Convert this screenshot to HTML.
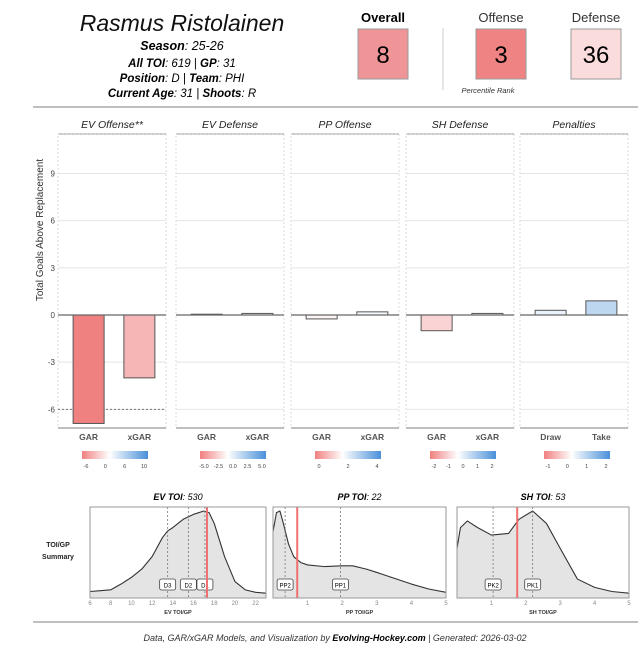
<!DOCTYPE html>
<html><head><meta charset="utf-8"><style>
body{margin:0;background:#fff;font-family:"Liberation Sans","DejaVu Sans",sans-serif}
svg text{font-family:"Liberation Sans","DejaVu Sans",sans-serif}
</style></head><body>
<svg id="c" width="640" height="656" viewBox="0 0 640 656" xmlns="http://www.w3.org/2000/svg">
<defs>
<linearGradient id="g" x1="0" x2="1"><stop offset="0" stop-color="#f08080"/><stop offset="0.42" stop-color="#fff"/><stop offset="1" stop-color="#4a90d9"/></linearGradient>
</defs>
<g>
<text x="182" y="31" font-size="23" font-style="italic" text-anchor="middle" fill="#111">Rasmus Ristolainen</text>
<text x="182" y="50" font-size="12.5" font-style="italic" text-anchor="middle"><tspan font-weight="bold">Season</tspan>: 25-26</text>
<text x="182" y="67" font-size="11.5" font-style="italic" text-anchor="middle"><tspan font-weight="bold">All TOI</tspan>: 619 | <tspan font-weight="bold">GP</tspan>: 31</text>
<text x="182" y="82" font-size="11.5" font-style="italic" text-anchor="middle"><tspan font-weight="bold">Position</tspan>: D | <tspan font-weight="bold">Team</tspan>: PHI</text>
<text x="182" y="97" font-size="11.5" font-style="italic" text-anchor="middle"><tspan font-weight="bold">Current Age</tspan>: 31 | <tspan font-weight="bold">Shoots</tspan>: R</text>
<text x="383" y="22" font-size="13" font-weight="bold" text-anchor="middle">Overall</text>
<rect x="358" y="29" width="50" height="50" fill="#f09597" stroke="#999"/>
<text x="383" y="63" font-size="24" text-anchor="middle">8</text>
<line x1="443" y1="28" x2="443" y2="90" stroke="#ccc"/>
<text x="501" y="22" font-size="13" text-anchor="middle" fill="#333">Offense</text>
<rect x="476" y="29" width="50" height="50" fill="#ef8283" stroke="#999"/>
<text x="501" y="63" font-size="24" text-anchor="middle">3</text>
<text x="596" y="22" font-size="13" text-anchor="middle" fill="#333">Defense</text>
<rect x="571" y="29" width="50" height="50" fill="#fbdcdc" stroke="#999"/>
<text x="596" y="63" font-size="24" text-anchor="middle">36</text>
<text x="488" y="93" font-size="7.5" font-style="italic" text-anchor="middle" fill="#333">Percentile Rank</text>
<line x1="33" y1="107" x2="638" y2="107" stroke="#999" stroke-width="1.2"/>
</g>
<g id="bars"></g>
<g id="dens"></g>
<line x1="33" y1="622" x2="638" y2="622" stroke="#999" stroke-width="1.2"/>
<text x="335" y="641" font-size="9" font-style="italic" text-anchor="middle" fill="#333">Data, GAR/xGAR Models, and Visualization by <tspan font-weight="bold" fill="#000">Evolving-Hockey.com</tspan> | Generated: 2026-03-02</text>
</svg>
<script>
const panelTitles=["EV Offense**","EV Defense","PP Offense","SH Defense","Penalties"];
const catA=["GAR","GAR","GAR","GAR","Draw"];
const catB=["xGAR","xGAR","xGAR","xGAR","Take"];
const valA=[-6.9,0.05,-0.25,-1.0,0.3];
const valB=[-4.0,0.1,0.2,0.1,0.9];
const yTicks=[-6,-3,0,3,6,9];
const legendTicks=[["-6","0","6","10"],["-5.0","-2.5","0.0","2.5","5.0"],["0","2","4"],["-2","-1","0","1","2"],["-1","0","1","2"]];
const legendMin=[-7,-6,-3,-3,-2];
const legendMax=[12,6,5,2.5,2.5];
const replacementLine=-6;

const NS="http://www.w3.org/2000/svg";
function mk(p,t,a){const e=document.createElementNS(NS,t);for(const k in a)e.setAttribute(k,a[k]);p.appendChild(e);return e;}
const y=v=>315-v*15.72;
const px=[58,176,291,406,520],pw=108;
function col(v,mn,mx){
  if(v<0){const t=Math.min(1,-v/Math.abs(mn));const r=255-(255-240)*t,g=255-(255-128)*t,b=255-(255-128)*t;return `rgb(${r|0},${g|0},${b|0})`;}
  const t=Math.min(1,v/mx);return `rgb(${(255-(255-74)*t)|0},${(255-(255-144)*t)|0},${(255-(255-217)*t)|0})`;}
const B=document.getElementById('bars');
const yl=mk(B,'text',{x:43,y:230,'font-size':10,fill:'#333','text-anchor':'middle',transform:'rotate(-90 43 230)'});
yl.textContent="Total Goals Above Replacement";


yTicks.forEach(t=>{const tx=mk(B,'text',{x:55,y:y(t)+3,'font-size':8,fill:'#444','text-anchor':'end'});tx.textContent=t;

});
panelTitles.forEach((ti,i)=>{
  const x0=px[i];
  const g=mk(B,'g',{});
  
  
  const tt=mk(g,'text',{x:x0+pw/2,y:128,'font-size':10.5,'font-style':'italic','text-anchor':'middle',fill:'#222'});tt.textContent=ti;
  
  
  mk(g,'line',{x1:x0,x2:x0+pw,y1:134,y2:134,stroke:'#aaa','stroke-width':1.2});
  mk(g,'rect',{x:x0,y:134,width:pw,height:294,fill:'none',stroke:'#ccc','stroke-dasharray':'2,2','stroke-width':0.7});
  yTicks.forEach(t=>{if(t!==0)mk(g,'line',{x1:x0,x2:x0+pw,y1:y(t),y2:y(t),stroke:'#e4e4e4'});});
  if(i===0){const rl=mk(g,'line',{x1:x0,x2:x0+pw,y1:y(replacementLine),y2:y(replacementLine),stroke:'#777','stroke-dasharray':'2,2'});
    
    }
  [[valA[i],catA[i],0.14],[valB[i],catB[i],0.61]].forEach(([v,c,f])=>{
    const bx=x0+pw*f, bw=31;
    const r=mk(g,'rect',{x:bx,y:Math.min(y(v),y(0)),width:bw,height:Math.abs(y(v)-y(0)),fill:col(v,legendMin[i],legendMax[i]),stroke:'#555','stroke-width':1});
    
    
    const l=mk(g,'text',{x:bx+bw/2,y:440,'font-size':8.5,'font-weight':'bold','text-anchor':'middle',fill:'#555'});l.textContent=c;
    
    
  });
  mk(g,'line',{x1:x0,x2:x0+pw,y1:y(0),y2:y(0),stroke:'#666','stroke-width':1.2});
  mk(g,'line',{x1:x0,x2:x0+pw,y1:428,y2:428,stroke:'#999','stroke-width':1.2});
  const lg=mk(g,'rect',{x:x0+24,y:451,width:66,height:8,fill:'url(#g)'});
  
  
  const lt=legendTicks[i];
  lt.forEach((s,k)=>{const tx=mk(g,'text',{x:x0+28+k*58/(lt.length-1),y:468,'font-size':5.5,'text-anchor':'middle',fill:'#444'});tx.textContent=s;
    
    });
});

const evX=[6,7,8,9,10,11,12,13,13.5,14,15,16,17,17.5,18,19,20,21,22,23];
const evD=[0.03,0.04,0.05,0.12,0.2,0.3,0.45,0.68,0.76,0.8,0.9,0.96,1.0,0.98,0.85,0.45,0.15,0.05,0.02,0.01];
const ppX=[0,0.1,0.2,0.3,0.45,0.6,0.8,1.0,1.5,2.0,2.3,2.7,3.0,3.5,4.0,4.5,5.0];
const ppD=[0.75,0.98,1.0,0.85,0.6,0.45,0.38,0.35,0.33,0.34,0.34,0.3,0.26,0.19,0.12,0.06,0.02];
const shX=[0,0.1,0.3,0.6,1.0,1.5,1.8,2.2,2.6,3.0,3.5,4.0,4.5,5.0];
const shD=[0.55,0.8,0.88,0.8,0.71,0.73,0.9,1.0,0.85,0.55,0.18,0.08,0.03,0.01];
const evTicks=[6,8,10,12,14,16,18,20,22];
const ppTicks=[1,2,3,4,5];
const shTicks=[1,2,3,4,5];
const evMarks=[["D3",13.5],["D2",15.5],["D1",17.1]];
const ppMarks=[["PP2",0.35],["PP1",1.95]];
const shMarks=[["PK2",1.05],["PK1",2.2]];
const playerToi=[17.3,0.7,1.75];
const densTitles=[["EV TOI","530"],["PP TOI","22"],["SH TOI","53"]];
const densAxis=["EV TOI/GP","PP TOI/GP","SH TOI/GP"];

const D=document.getElementById('dens');
const lab=mk(D,'text',{x:58,y:547,'font-size':7,'font-weight':'bold','text-anchor':'middle',fill:'#222'});lab.textContent="TOI/GP";


const lab2=mk(D,'text',{x:58,y:559,'font-size':7,'font-weight':'bold','text-anchor':'middle',fill:'#222'});lab2.textContent="Summary";


const cfg=[[90,176,6,23,evX,evD,evTicks,evMarks],[273,173,0,5,ppX,ppD,ppTicks,ppMarks],[457,172,0,5,shX,shD,shTicks,shMarks]];
cfg.forEach(([x0,w,mn,mx,xs,ds,tk,mks],i)=>{
  const g=mk(D,'g',{});
  
  
  const top=507,bot=598,sx=v=>x0+(v-mn)/(mx-mn)*w,sy=d=>bot-4-d*83;
  const t=mk(g,'text',{x:x0+w/2,y:500,'font-size':9,'font-style':'italic','text-anchor':'middle'});
  t.innerHTML=`<tspan font-weight="bold">${densTitles[i][0]}</tspan>: ${densTitles[i][1]}`;
  
  
  let d=`M${sx(xs[0])},${bot}`;xs.forEach((v,k)=>d+=` L${sx(v)},${sy(ds[k])}`);d+=` L${sx(xs[xs.length-1])},${bot}Z`;
  const a=mk(g,'path',{d,fill:'#e4e4e4',stroke:'none'});
  
  
  let l='';xs.forEach((v,k)=>l+=(k?' L':'M')+sx(v)+','+sy(ds[k]));
  const ln=mk(g,'path',{d:l,fill:'none',stroke:'#333','stroke-width':1.1,'stroke-linejoin':'round'});
  
  
  mks.forEach(([n,v])=>{mk(g,'line',{x1:sx(v),x2:sx(v),y1:top,y2:bot,stroke:'#777','stroke-dasharray':'2,2','stroke-width':0.8});
    const r=mk(g,'rect',{x:sx(v)-8,y:579,width:16,height:11,rx:2,fill:'#fff',stroke:'#444','stroke-width':0.8});
    
    
    const tx=mk(g,'text',{x:sx(v),y:587.5,'font-size':6,'text-anchor':'middle'});tx.textContent=n;
    
    });
  const red=mk(g,'line',{x1:sx(playerToi[i]),x2:sx(playerToi[i]),y1:top,y2:bot,stroke:'#f07070','stroke-width':2});
  
  
  mk(g,'rect',{x:x0,y:top,width:w,height:bot-top,fill:'none',stroke:'#999','stroke-width':1});
  tk.forEach(v=>{const tx=mk(g,'text',{x:sx(v),y:605,'font-size':6,'text-anchor':'middle',fill:'#888'});tx.textContent=v;
    
    });
  const ax=mk(g,'text',{x:x0+w/2,y:614,'font-size':5.5,'font-weight':'bold','text-anchor':'middle',fill:'#333'});ax.textContent=densAxis[i];
  
  
});
</script>
</body></html>
